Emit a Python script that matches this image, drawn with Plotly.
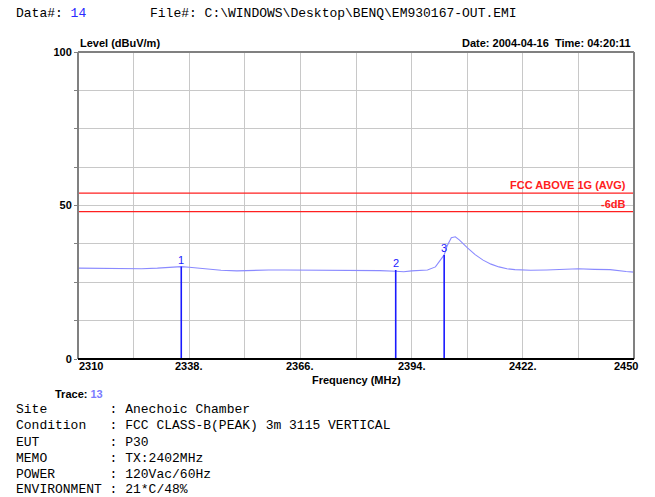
import plotly.graph_objects as go

# ---------------- data ----------------
freq_mhz = [2310, 2314, 2318, 2322, 2326, 2330, 2334, 2336, 2338, 2342, 2346, 2350,
            2354, 2358, 2362, 2366, 2370, 2374, 2378, 2382, 2386, 2390, 2392, 2394,
            2396, 2398, 2400, 2401, 2402.2, 2403, 2404, 2405, 2406, 2408, 2410, 2412,
            2414, 2416, 2418, 2420, 2424, 2428, 2432, 2436, 2440, 2444, 2448, 2450]
level_dbuv = [29.6, 29.5, 29.4, 29.5, 29.4, 29.6, 29.8, 30.1, 29.9, 29.3, 28.9, 28.7,
              28.9, 29.0, 29.0, 29.0, 29.0, 28.9, 28.8, 28.8, 28.8, 28.6, 28.4, 28.7,
              28.9, 29.0, 30.0, 31.8, 33.9, 37.0, 39.5, 39.8, 38.8, 36.3, 34.0, 32.2,
              30.9, 30.0, 29.4, 29.1, 28.9, 29.0, 29.1, 29.4, 29.2, 29.1, 28.5, 28.3]

marker_ids = ["1", "2", "3"]
marker_freq = [2336.0, 2390.0, 2402.2]
marker_level = [30.1, 29.0, 33.9]

limit_names = ["FCC ABOVE 1G (AVG)", "-6dB"]
limit_levels = [54, 48]

x_grid = [2310, 2324, 2338, 2352, 2366, 2380, 2394, 2408, 2422, 2436, 2450]
x_labels = ["2310", "", "2338.", "", "2366.", "", "2394.", "", "2422.", "", "2450"]
y_grid = [0, 12.5, 25, 37.5, 50, 62.5, 75, 87.5, 100]
y_labels = ["0", "", "", "", "50", "", "", "", "100"]

info_lines = [
    ("Site", "Anechoic Chamber"),
    ("Condition", "FCC CLASS-B(PEAK) 3m 3115 VERTICAL"),
    ("EUT", "P30"),
    ("MEMO", "TX:2402MHz"),
    ("POWER", "120Vac/60Hz"),
    ("ENVIRONMENT", "21*C/48%"),
]

# ---------------- layout constants ----------------
W, H = 655, 497
L, R, T, B = 78, 634, 52, 359
PW, PH = R - L, B - T

def px(xp):
    return (xp - L) / PW

def py(yp):
    return (B - yp) / PH

NB = "\u00a0"
MONO = "Courier New, Liberation Mono, monospace"
SANS = "Arial, Liberation Sans, sans-serif"
MONO_SIZE = 13

fig = go.Figure()

# trace
fig.add_trace(go.Scatter(x=freq_mhz, y=level_dbuv, mode="lines",
                         line=dict(color="#8a8aff", width=1.1), hoverinfo="skip",
                         showlegend=False))

# limit lines
for name, lv in zip(limit_names, limit_levels):
    fig.add_trace(go.Scatter(x=[freq_mhz[0], freq_mhz[-1]], y=[lv, lv], mode="lines",
                             line=dict(color="#ff2020", width=1.3), showlegend=False,
                             hoverinfo="skip"))

# marker lines
for mid, mf, ml in zip(marker_ids, marker_freq, marker_level):
    fig.add_trace(go.Scatter(x=[mf, mf], y=[0, ml], mode="lines",
                             line=dict(color="#1a1aff", width=1.6), showlegend=False,
                             hoverinfo="skip"))

annotations = []
# marker labels
for mid, mf, ml in zip(marker_ids, marker_freq, marker_level):
    annotations.append(dict(x=mf, y=ml, xref="x", yref="y", text=mid, showarrow=False,
                            xanchor="center", yanchor="bottom", yshift=-1,
                            font=dict(family=SANS, size=11, color="#1a1aff")))
# limit labels
for name, lv in zip(limit_names, limit_levels):
    annotations.append(dict(x=px(628), y=lv, xref="paper", yref="y", text="<b>%s</b>" % name,
                            showarrow=False, xanchor="right", yanchor="bottom", yshift=0,
                            font=dict(family=SANS, size=11, color="#ff2020")))
# x tick labels
for xv, lab in zip(x_grid, x_labels):
    if not lab:
        continue
    if xv == x_grid[0]:
        anc, sh = "left", -1
    elif xv == x_grid[-1]:
        anc, sh = "right", 6
    else:
        anc, sh = "center", 0
    annotations.append(dict(x=xv, y=py(366), xref="x", yref="paper", text="<b>%s</b>" % lab,
                            showarrow=False, xanchor=anc, yanchor="middle", xshift=sh,
                            font=dict(family=SANS, size=11, color="black")))
# axis titles
annotations.append(dict(x=0.5, y=py(380), xref="paper", yref="paper",
                        text="<b>Frequency (MHz)</b>", showarrow=False, xanchor="center",
                        yanchor="middle", font=dict(family=SANS, size=11, color="black")))
annotations.append(dict(x=px(78), y=py(43), xref="paper", yref="paper",
                        text="<b>Level (dBuV/m)</b>", showarrow=False, xanchor="left",
                        yanchor="middle", font=dict(family=SANS, size=11, color="black")))
annotations.append(dict(x=px(633), y=py(43), xref="paper", yref="paper",
                        text="<b>Date: 2004-04-16" + NB * 2 + "Time: 04:20:11</b>",
                        showarrow=False, xanchor="right", yanchor="middle",
                        font=dict(family=SANS, size=11, color="black")))
# header
annotations.append(dict(x=px(14), y=py(14), xref="paper", yref="paper",
                        text="Data#:" + NB + "<span style='color:#2a2aff'>14</span>",
                        showarrow=False, xanchor="left", yanchor="middle",
                        font=dict(family=MONO, size=MONO_SIZE, color="black")))
annotations.append(dict(x=px(148), y=py(14), xref="paper", yref="paper",
                        text="File#:" + NB + "C:\\WINDOWS\\Desktop\\BENQ\\EM930167-OUT.EMI",
                        showarrow=False, xanchor="left", yanchor="middle",
                        font=dict(family=MONO, size=MONO_SIZE, color="black")))
# trace label
annotations.append(dict(x=px(53), y=py(394), xref="paper", yref="paper",
                        text="<b>Trace:</b>" + NB + "<b><span style='color:#7b7bff'>13</span></b>",
                        showarrow=False, xanchor="left", yanchor="middle",
                        font=dict(family=SANS, size=11, color="black")))
# info block
line_y = [409, 425.5, 442, 458, 474, 489.5]
for (k, v), yy in zip(info_lines, line_y):
    txt = k + NB * (12 - len(k)) + ":" + NB + v.replace(" ", NB)
    annotations.append(dict(x=px(14), y=py(yy), xref="paper", yref="paper", text=txt,
                            showarrow=False, xanchor="left", yanchor="middle",
                            font=dict(family=MONO, size=MONO_SIZE, color="black")))

shapes = [
    dict(type="line", xref="paper", yref="paper", x0=0, x1=0, y0=0, y1=1,
         line=dict(color="#808080", width=2)),
    dict(type="line", xref="paper", yref="paper", x0=0, x1=1, y0=1, y1=1,
         line=dict(color="#808080", width=2)),
    dict(type="line", xref="paper", yref="paper", x0=1, x1=1, y0=0, y1=1,
         line=dict(color="#808080", width=2)),
    dict(type="line", xref="paper", yref="paper", x0=0, x1=1, y0=0, y1=0,
         line=dict(color="black", width=2)),
]

fig.update_layout(
    width=W, height=H,
    margin=dict(l=L, r=W - R, t=T, b=H - B, pad=0),
    paper_bgcolor="white", plot_bgcolor="white",
    showlegend=False,
    annotations=annotations, shapes=shapes,
    xaxis=dict(range=[2310, 2450], tickvals=x_grid, ticktext=[""] * len(x_grid),
               showgrid=True, gridcolor="#c8c8c8", gridwidth=1, zeroline=False,
               showline=False, ticks="", fixedrange=True),
    yaxis=dict(range=[0, 100], tickvals=y_grid, ticktext=["<b>%s</b>" % t if t else "" for t in y_labels],
               showgrid=True, gridcolor="#c8c8c8", gridwidth=1, zeroline=False,
               showline=False, ticks="outside", ticklen=3, tickcolor="#808080",
               tickfont=dict(family=SANS, size=11, color="black"), fixedrange=True),
)

fig.write_html("out.html", config={"displayModeBar": False},
               post_script="document.body.style.margin='0';document.body.style.overflow='hidden';")
